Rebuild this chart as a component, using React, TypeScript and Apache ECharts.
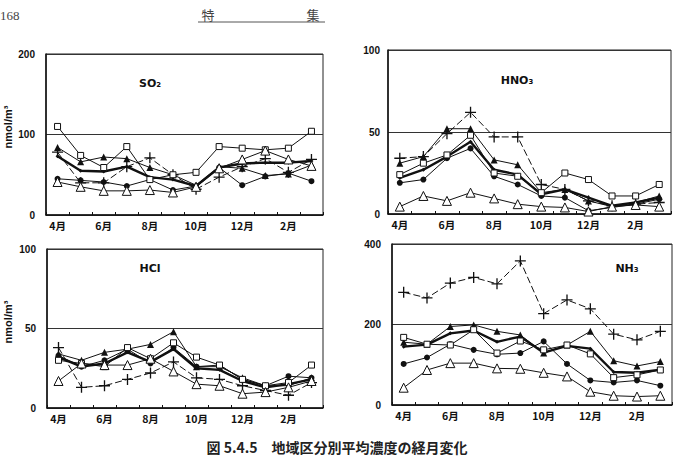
import React, { useEffect, useRef } from "react";
import * as echarts from "echarts";

const months = ["4月", "5月", "6月", "7月", "8月", "9月", "10月", "11月", "12月", "1月", "2月", "3月"];

// SO2 (nmol/m3)
const so2Square = [110, 74, 59, 85, 44, 50, 53, 85, 83, 81, 83, 104];
const so2Tri = [84, 66, 72, 70, 59, 50, 37, 60, 58, 49, 51, 62];
const so2Circle = [45, 43, 41, 36, 44, 31, 36, 59, 37, 48, 52, 42];
const so2Plus = [78, 40, 40, 60, 71, 50, 32, 47, 60, 70, 53, 69];
const so2OpenTri = [41, 35, 30, 30, 31, 28, 35, 58, 69, 80, 69, 61];
const so2Thick = [73, 55, 54, 60, 47, 44, 36, 59, 64, 65, 65, 67];

// HNO3
const hno3Square = [24, 31, 36, 48, 25, 23, 13, 25, 21, 11, 11, 18];
const hno3Tri = [31, 35, 52, 52, 33, 30, 13, 15, 8, 4.5, 7, 11];
const hno3Circle = [19, 21, 34, 40, 23, 18, 11, 10, 2, 4, 6, 9];
const hno3Plus = [34, 35, 49, 62, 47, 47, 18, 15, 8, 5, 6, 7];
const hno3OpenTri = [4.5, 11, 8, 13, 9.5, 6, 4.5, 4, 1.5, 4.5, 5.5, 4.5];
const hno3Thick = [22, 27, 35, 44, 27, 24, 12, 15, 10, 5, 7, 10];

// HCl
const hclSquare = [30, 28, 26, 38, 31, 41, 32, 27, 18, 14, 16, 27];
const hclTri = [34, 30, 35, 37, 40, 48, 26, 26, 19, 14, 14, 19];
const hclCircle = [33, 26, 30, 37, 28, 38, 26, 27, 18, 14, 20, 19];
const hclPlus = [38, 13, 14, 18, 22, 29, 19, 18, 14, 11, 8, 16];
const hclOpenTri = [17, 28, 27, 27, 31, 23, 15, 14, 9, 10, 13, 17];
const hclThick = [32, 26, 28, 35, 29, 37, 25, 24, 17, 13, 15, 18];

// NH3
const nh3Square = [168, 151, 149, 187, 129, 159, 137, 149, 127, 68, 75, 87];
const nh3Tri = [156, 151, 195, 199, 183, 174, 129, 149, 183, 110, 97, 108];
const nh3Circle = [102, 118, 151, 137, 126, 129, 158, 102, 61, 56, 61, 48];
const nh3Plus = [280, 266, 303, 317, 301, 358, 227, 261, 239, 176, 162, 183];
const nh3OpenTri = [43, 87, 104, 104, 91, 90, 80, 71, 33, 23, 21, 23];
const nh3Thick = [145, 150, 178, 185, 157, 170, 130, 147, 140, 82, 80, 88];

const panelTitles = ["SO₂", "HNO₃", "HCl", "NH₃"];
const panelMax = [200, 100, 100, 400];
const panelData = [
  [so2Square, so2Tri, so2Circle, so2Plus, so2OpenTri, so2Thick],
  [hno3Square, hno3Tri, hno3Circle, hno3Plus, hno3OpenTri, hno3Thick],
  [hclSquare, hclTri, hclCircle, hclPlus, hclOpenTri, hclThick],
  [nh3Square, nh3Tri, nh3Circle, nh3Plus, nh3OpenTri, nh3Thick],
];
const yUnit = "nmol/m³";

const plusPath = "path://M4.4,0H5.6V4.4H10V5.6H5.6V10H4.4V5.6H0V4.4H4.4Z";

const seriesStyles = [
  { symbol: "rect", size: 6, fill: "#fff", width: 1, dash: "solid" as any },
  { symbol: "triangle", size: 7, fill: "#111", width: 1, dash: "solid" as any },
  { symbol: "circle", size: 6, fill: "#111", width: 1, dash: "solid" as any },
  { symbol: plusPath, size: 11, fill: "#111", width: 1, dash: [7, 3] as any },
  { symbol: "triangle", size: 9, fill: "#fff", width: 1, dash: "solid" as any },
  { symbol: "diamond", size: 4, fill: "#111", width: 2.4, dash: "solid" as any },
];

const grids = [
  { left: 46, top: 54, width: 277, height: 161 },
  { left: 388, top: 50, width: 283, height: 164 },
  { left: 47, top: 249, width: 276, height: 159 },
  { left: 392, top: 244, width: 280, height: 161 },
];
const titlePos = [
  { x: 150, y: 83 },
  { x: 517, y: 80 },
  { x: 150, y: 268 },
  { x: 627, y: 268 },
];
const unitPos = [
  { x: 8, y: 127 },
  { x: 8, y: 322 },
];

export default function App() {
  const ref = useRef<HTMLDivElement>(null);
  useEffect(() => {
    if (!ref.current) return;
    const chart = echarts.init(ref.current, null, { renderer: "svg" });
    const series: any[] = [];
    panelData.forEach((group, p) => {
      group.forEach((vals, s) => {
        const st = seriesStyles[s];
        series.push({
          type: "line",
          xAxisIndex: p,
          yAxisIndex: p,
          data: vals,
          symbol: st.symbol,
          symbolSize: st.size,
          showAllSymbol: true,
          lineStyle: { color: "#111", width: st.width, type: st.dash },
          itemStyle: { color: st.fill, borderColor: "#111", borderWidth: st.fill === "#fff" ? 1 : 0 },
          z: s === 4 || s === 0 ? 3 : 2,
        });
      });
    });
    const option: any = {
      animation: false,
      backgroundColor: "#fff",
      grid: grids.map((g) => ({ ...g, show: true, borderColor: "#222", borderWidth: 1, backgroundColor: "transparent" })),
      xAxis: grids.map((_, i) => ({
        type: "category",
        gridIndex: i,
        data: months,
        boundaryGap: true,
        axisLine: { show: true, lineStyle: { color: "#111", width: 1.5 } },
        axisTick: { show: true, inside: true, length: 3, interval: 0, lineStyle: { color: "#111" } },
        axisLabel: {
          interval: 1,
          color: "#111",
          fontWeight: "bold",
          fontSize: 10.5,
          margin: 5,
          fontFamily: "Noto Sans CJK JP",
        },
        splitLine: { show: false },
      })),
      yAxis: grids.map((_, i) => ({
        type: "value",
        gridIndex: i,
        min: 0,
        max: panelMax[i],
        interval: panelMax[i] / 2,
        axisLine: { show: true, lineStyle: { color: "#111", width: 1.5 } },
        axisTick: { show: false },
        axisLabel: {
          color: "#111",
          fontWeight: "bold",
          fontSize: 10,
          margin: i === 1 ? 8 : 11,
          fontFamily: "Liberation Sans",
        },
        splitLine: { show: true, lineStyle: { color: "#333", width: 1 } },
      })),
      series,
      graphic: [
        ...panelTitles.map((t, i) => ({
          type: "text",
          x: titlePos[i].x,
          y: titlePos[i].y,
          style: {
            text: t,
            fill: "#111",
            font: "bold 11px 'DejaVu Sans'",
            textAlign: "center",
            textVerticalAlign: "middle",
          },
        })),
        ...unitPos.map((p) => ({
          type: "text",
          x: p.x,
          y: p.y,
          rotation: Math.PI / 2,
          style: {
            text: yUnit,
            fill: "#111",
            font: "bold 11px 'Liberation Sans'",
            textAlign: "center",
            textVerticalAlign: "middle",
          },
        })),
        {
          type: "text",
          x: 0,
          y: 15,
          style: { text: "168", fill: "#444", font: "13px 'Liberation Serif'", textVerticalAlign: "middle" },
        },
        {
          type: "text",
          x: 208,
          y: 14,
          style: { text: "特", fill: "#444", font: "13px 'Noto Sans CJK JP'", textAlign: "center", textVerticalAlign: "middle" },
        },
        {
          type: "text",
          x: 313,
          y: 14,
          style: { text: "集", fill: "#444", font: "13px 'Noto Sans CJK JP'", textAlign: "center", textVerticalAlign: "middle" },
        },
        {
          type: "line",
          shape: { x1: 198, y1: 22, x2: 325, y2: 22 },
          style: { stroke: "#555", lineWidth: 1 },
        },
        {
          type: "text",
          x: 337,
          y: 447,
          style: {
            text: "図 5.4.5　地域区分別平均濃度の経月変化",
            fill: "#222",
            font: "bold 14px 'Noto Sans CJK JP'",
            textAlign: "center",
            textVerticalAlign: "middle",
          },
        },
      ],
    };
    chart.setOption(option);
    return () => chart.dispose();
  }, []);
  return (
    <div
      ref={ref}
      style={{ position: "absolute", left: 0, top: 0, width: 674, height: 461, background: "#fff" }}
    />
  );
}
